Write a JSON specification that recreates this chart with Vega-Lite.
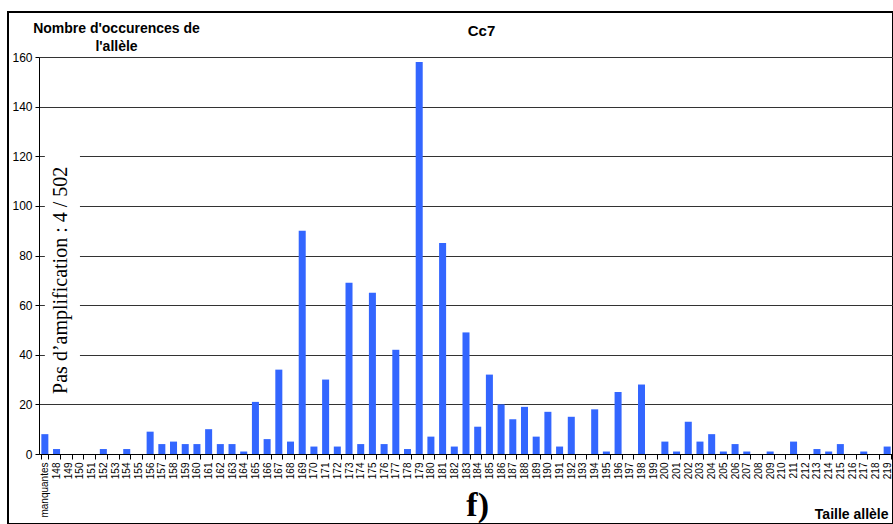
{
  "$schema": "https://vega.github.io/schema/vega-lite/v6.json",
  "width": 885,
  "height": 512,
  "autosize": {"type": "none"},
  "padding": {"left": 8, "top": 12, "right": 0, "bottom": 0},
  "background": "white",
  "title": {"text": "Cc7", "font": "Liberation Sans", "fontSize": 15, "fontWeight": "bold", "color": "black", "anchor": "middle", "baseline": "bottom", "offset": -42, "dx": 31},
  "config": {"view": {"stroke": "black", "strokeWidth": 2}, "font": "Liberation Sans"},
  "layer": [
    {
      "data": {"values": [
        {"allele": "manquantes", "n": 8}, {"allele": "148", "n": 2}, {"allele": "149", "n": 0}, {"allele": "150", "n": 0},
        {"allele": "151", "n": 0}, {"allele": "152", "n": 2}, {"allele": "153", "n": 0}, {"allele": "154", "n": 2},
        {"allele": "155", "n": 0}, {"allele": "156", "n": 9}, {"allele": "157", "n": 4}, {"allele": "158", "n": 5},
        {"allele": "159", "n": 4}, {"allele": "160", "n": 4}, {"allele": "161", "n": 10}, {"allele": "162", "n": 4},
        {"allele": "163", "n": 4}, {"allele": "164", "n": 1}, {"allele": "165", "n": 21}, {"allele": "166", "n": 6},
        {"allele": "167", "n": 34}, {"allele": "168", "n": 5}, {"allele": "169", "n": 90}, {"allele": "170", "n": 3},
        {"allele": "171", "n": 30}, {"allele": "172", "n": 3}, {"allele": "173", "n": 69}, {"allele": "174", "n": 4},
        {"allele": "175", "n": 65}, {"allele": "176", "n": 4}, {"allele": "177", "n": 42}, {"allele": "178", "n": 2},
        {"allele": "179", "n": 158}, {"allele": "180", "n": 7}, {"allele": "181", "n": 85}, {"allele": "182", "n": 3},
        {"allele": "183", "n": 49}, {"allele": "184", "n": 11}, {"allele": "185", "n": 32}, {"allele": "186", "n": 20},
        {"allele": "187", "n": 14}, {"allele": "188", "n": 19}, {"allele": "189", "n": 7}, {"allele": "190", "n": 17},
        {"allele": "191", "n": 3}, {"allele": "192", "n": 15}, {"allele": "193", "n": 0}, {"allele": "194", "n": 18},
        {"allele": "195", "n": 1}, {"allele": "196", "n": 25}, {"allele": "197", "n": 0}, {"allele": "198", "n": 28},
        {"allele": "199", "n": 0}, {"allele": "200", "n": 5}, {"allele": "201", "n": 1}, {"allele": "202", "n": 13},
        {"allele": "203", "n": 5}, {"allele": "204", "n": 8}, {"allele": "205", "n": 1}, {"allele": "206", "n": 4},
        {"allele": "207", "n": 1}, {"allele": "208", "n": 0}, {"allele": "209", "n": 1}, {"allele": "210", "n": 0},
        {"allele": "211", "n": 5}, {"allele": "212", "n": 0}, {"allele": "213", "n": 2}, {"allele": "214", "n": 1},
        {"allele": "215", "n": 4}, {"allele": "216", "n": 0}, {"allele": "217", "n": 1}, {"allele": "218", "n": 0},
        {"allele": "219", "n": 3}
      ]},
      "mark": {"type": "bar", "color": "#3366ff"},
      "encoding": {
        "x": {
          "field": "allele", "type": "nominal", "sort": null,
          "scale": {
            "domain": ["manquantes","148","149","150","151","152","153","154","155","156","157","158","159","160","161","162","163","164","165","166","167","168","169","170","171","172","173","174","175","176","177","178","179","180","181","182","183","184","185","186","187","188","189","190","191","192","193","194","195","196","197","198","199","200","201","202","203","204","205","206","207","208","209","210","211","212","213","214","215","216","217","218","219"],
            "range": [31, 885],
            "paddingInner": 0.4, "paddingOuter": 0.2
          },
          "axis": {
            "offset": -70,
            "title": "Taille allèle", "titleFont": "Liberation Sans", "titleFontSize": 14, "titleFontWeight": "bold", "titleColor": "black",
            "titleAnchor": "end", "titleAlign": "right", "titleBaseline": "alphabetic", "titleX": 880, "titleY": 64,
            "labelAngle": -90, "labelFontSize": 10, "labelColor": "black", "labelPadding": 3, "labelOverlap": false, "labelFlush": false,
            "tickBand": "extent", "tickSize": 5, "tickColor": "black", "domainColor": "black", "grid": false
          }
        },
        "y": {
          "field": "n", "type": "quantitative",
          "scale": {"domain": [0, 160], "nice": false, "range": [442, 45]},
          "axis": {
            "offset": -31,
            "title": ["Nombre d'occurences de", "l'allèle"], "titleAngle": 0, "titleAlign": "center", "titleBaseline": "alphabetic",
            "titleX": 77, "titleY": 20, "titleFont": "Liberation Sans", "titleFontSize": 14, "titleFontWeight": "bold", "titleColor": "black", "titleLineHeight": 18,
            "values": [0, 20, 40, 60, 80, 100, 120, 140, 160],
            "labelFontSize": 12, "labelColor": "black", "labelPadding": 3, "tickSize": 4, "tickColor": "black", "domainColor": "black",
            "grid": true, "gridColor": "#333333", "gridOpacity": 1
          }
        }
      }
    },
    {
      "data": {"values": [{"box": "label"}]},
      "mark": {"type": "rect", "color": "white"},
      "encoding": {
        "x": {"datum": "manquantes"},
        "x2": {"datum": "150"},
        "y": {"datum": 21},
        "y2": {"datum": 123}
      }
    },
    {
      "data": {"values": [{"t": "Pas d’amplification : 4 / 502"}]},
      "mark": {"type": "text", "angle": 270, "font": "Liberation Serif", "fontSize": 20, "align": "center", "baseline": "middle", "dy": 4, "color": "black"},
      "encoding": {
        "x": {"datum": "148"},
        "y": {"datum": 70},
        "text": {"field": "t"}
      }
    },
    {
      "data": {"values": [{"t": "f)"}]},
      "mark": {"type": "text", "font": "Liberation Serif", "fontSize": 34, "fontWeight": "bold", "align": "center", "baseline": "alphabetic", "color": "black"},
      "encoding": {
        "x": {"datum": "184"},
        "y": {"datum": -25},
        "text": {"field": "t"}
      }
    }
  ]
}
